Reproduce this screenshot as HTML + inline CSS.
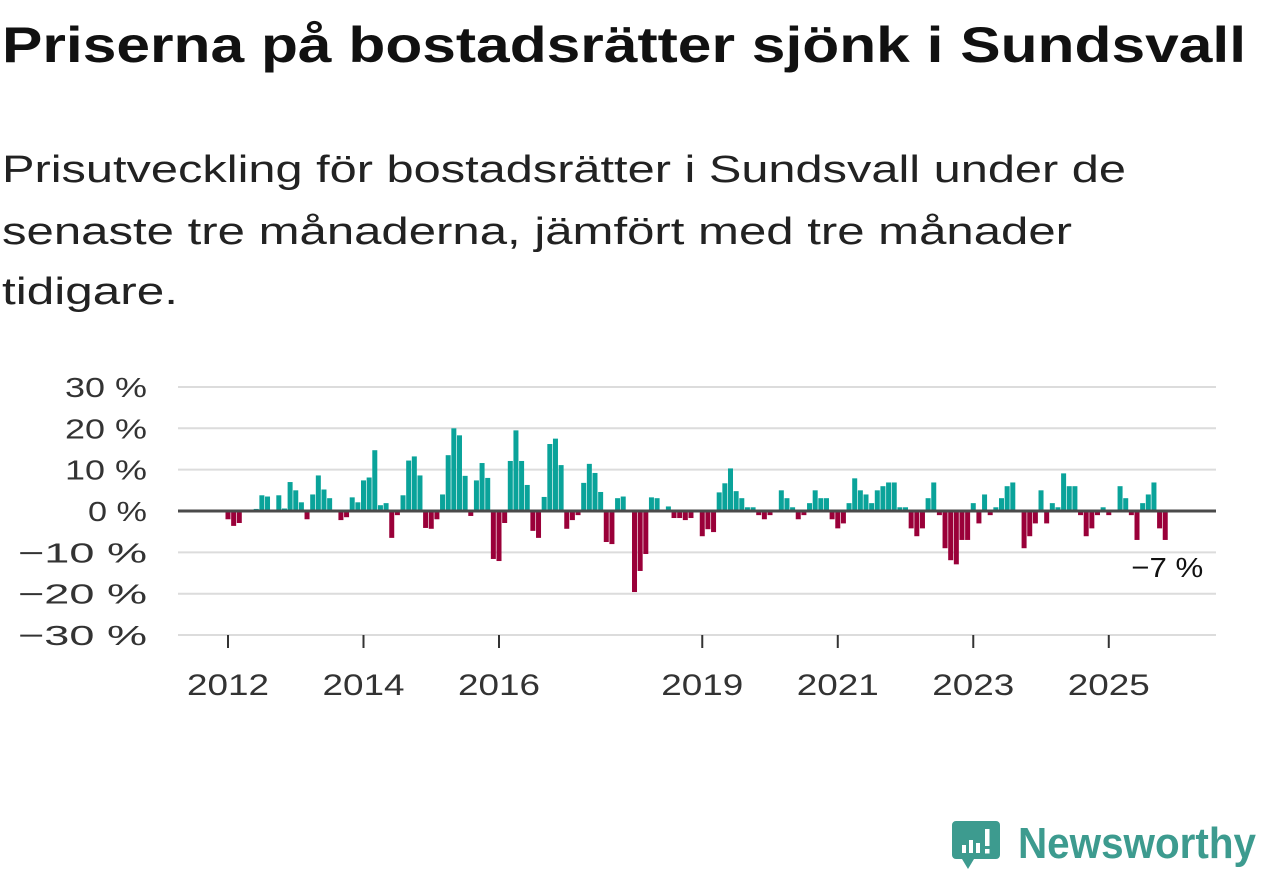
<!DOCTYPE html>
<html><head><meta charset="utf-8"><style>
html,body{margin:0;padding:0;background:#fff;}
svg{display:block;font-family:"Liberation Sans",sans-serif;}
</style></head><body>
<svg id="chart" width="1262" height="879" viewBox="0 0 1262 879">
<text x="2" y="62" font-size="50" font-weight="bold" fill="#111" textLength="1244" lengthAdjust="spacingAndGlyphs">Priserna på bostadsrätter sjönk i Sundsvall</text>
<text x="2" y="182" font-size="38" fill="#222" textLength="1124" lengthAdjust="spacingAndGlyphs">Prisutveckling för bostadsrätter i Sundsvall under de</text>
<text x="2" y="244" font-size="38" fill="#222" textLength="1070" lengthAdjust="spacingAndGlyphs">senaste tre månaderna, jämfört med tre månader</text>
<text x="2" y="304" font-size="38" fill="#222" textLength="176" lengthAdjust="spacingAndGlyphs">tidigare.</text>
<g id="grid"></g>
<g id="bars"></g>
<g id="axes"></g>
<g>
<path d="M956 821 h40 a4 4 0 0 1 4 4 v30 a4 4 0 0 1 -4 4 h-22 l-6 10 l-6 -10 h-6 a4 4 0 0 1 -4 -4 v-30 a4 4 0 0 1 4 -4z" fill="#3d9b8f"/>
<rect x="962" y="845" width="4" height="8" fill="#fff"/>
<rect x="969" y="840" width="4" height="13" fill="#fff"/>
<rect x="976" y="843" width="4" height="10" fill="#fff"/>
<rect x="985" y="829" width="4.5" height="17" fill="#fff"/>
<rect x="985" y="849" width="4.5" height="4.5" fill="#fff"/>
<text x="1018" y="858" font-size="44" font-weight="bold" fill="#3d9b8f" textLength="238" lengthAdjust="spacingAndGlyphs">Newsworthy</text>
</g>
</svg>
<script>
const yTicks = [30, 20, 10, 0, -10, -20, -30];
const yTickLabels = ["30 %", "20 %", "10 %", "0 %", "−10 %", "−20 %", "−30 %"];
const xTickYears = [2012, 2014, 2016, 2019, 2021, 2023, 2025];
const startYear = 2012;
const values = [
-2.0,-3.6,-2.9,0,0,0.5,3.8,3.5,0,3.8,0.6,7.0,
5.0,2.1,-2.0,4.0,8.6,5.2,3.1,0,-2.2,-1.5,3.3,2.1,
7.4,8.1,14.7,1.4,1.9,-6.5,-1.0,3.8,12.2,13.2,8.6,-4.1,
-4.3,-2.0,4.0,13.5,20.0,18.3,8.5,-1.2,7.4,11.6,8.0,-11.6,
-12.1,-2.9,12.1,19.5,12.1,6.3,-4.8,-6.5,3.4,16.2,17.5,11.1,
-4.3,-2.2,-1.0,6.8,11.4,9.2,4.6,-7.5,-8.0,3.1,3.5,0,
-19.6,-14.5,-10.4,3.3,3.1,0,1.1,-1.7,-1.7,-2.2,-1.7,0,
-6.1,-4.4,-5.1,4.5,6.7,10.3,4.8,3.1,0.9,0.9,-1.0,-2.0,
-1.0,0,5.0,3.1,0.9,-2.0,-1.0,1.9,5.0,3.1,3.1,-2.0,
-4.2,-3.0,1.9,7.9,5.0,4.0,1.9,5.0,6.0,6.9,6.9,0.9,
0.9,-4.2,-6.1,-4.2,3.1,6.9,-1.0,-9.0,-11.9,-12.9,-7.0,-7.0,
1.9,-3.0,4.0,-1.0,0.9,3.1,6.0,6.9,0,-9.0,-6.1,-3.0,
5.0,-3.0,1.9,0.9,9.1,6.0,6.0,-1.0,-6.1,-4.2,-1.0,0.9,
-1.0,0,6.0,3.1,-1.0,-7.0,1.9,4.0,6.9,-4.2,-7.0
];
const lastLabel = "−7 %";
const NS = "http://www.w3.org/2000/svg";
const x0 = 228, monthW = 5.646, plotL = 178, plotR = 1216;
const y = v => 511 - v * 4.135;
const x = i => x0 + i * monthW;
function mk(tag, attrs, parent) {
  const e = document.createElementNS(NS, tag);
  for (const k in attrs) e.setAttribute(k, attrs[k]);
  parent.appendChild(e);
  return e;
}
function labelWidth(s) {
  return 23 * s.length - 10 + (s.charAt(0) === '−' ? 24 : 0);
}
const grid = document.getElementById('grid');
const bars = document.getElementById('bars');
const axes = document.getElementById('axes');
yTicks.forEach((t, k) => {
  if (t !== 0) {
    const l = mk('line', {x1: plotL, x2: plotR, y1: y(t), y2: y(t), stroke: '#dcdcdc', 'stroke-width': 2}, grid);
    
    
  }
  const s = yTickLabels[k];
  const w = labelWidth(s);
  const tx = mk('text', {x: 147 - w, y: y(t) + 10, 'font-size': 28, fill: '#333', textLength: w, lengthAdjust: 'spacingAndGlyphs'}, axes);
  tx.textContent = s;
  
  
});
values.forEach((v, i) => {
  if (v === 0) return;
  const top = v > 0 ? y(v) : y(0);
  const h = Math.abs(y(v) - y(0));
  const r = mk('rect', {x: x(i) - 2.5, y: top, width: 5, height: h, fill: v > 0 ? '#0aa39a' : '#9a0039'}, bars);
  
  
});
const zl = mk('line', {x1: plotL, x2: plotR, y1: y(0), y2: y(0), stroke: '#4a4a4a', 'stroke-width': 3}, axes);


const bl = mk('line', {x1: plotL, x2: plotR, y1: 635, y2: 635, stroke: '#dcdcdc', 'stroke-width': 1}, axes);


xTickYears.forEach(yr => {
  const xi = x((yr - startYear) * 12);
  const tk = mk('line', {x1: xi, x2: xi, y1: 635, y2: 648, stroke: '#333', 'stroke-width': 2}, axes);
  
  
  const tl = mk('text', {x: xi - 41, y: 695, 'font-size': 30, fill: '#333', textLength: 82, lengthAdjust: 'spacingAndGlyphs'}, axes);
  tl.textContent = String(yr);
  
  
});
const li = values.length - 1;
const lbl = mk('text', {x: x(li) + 38 - 72, y: y(values[li]) + 37, 'font-size': 28, fill: '#111', textLength: 72, lengthAdjust: 'spacingAndGlyphs', stroke: '#fff', 'stroke-width': 6, 'paint-order': 'stroke'}, axes);
lbl.textContent = lastLabel;


</script>
</body></html>
